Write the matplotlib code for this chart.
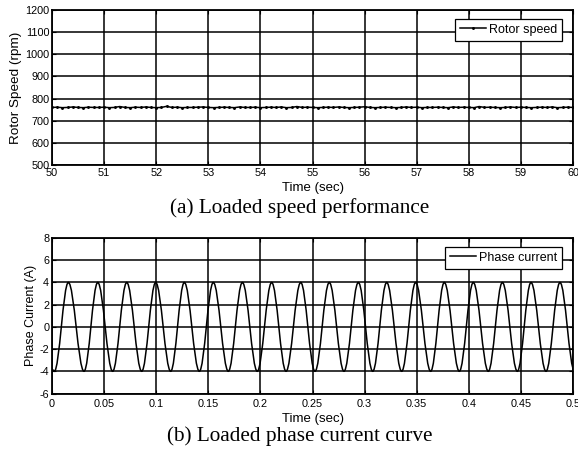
import numpy as np
import matplotlib
matplotlib.use("Agg")
import matplotlib.pyplot as plt
from matplotlib.path import Path
from matplotlib.patches import PathPatch
from matplotlib.lines import Line2D

# ---------------- data ----------------
speed_t0, speed_t1 = 50.0, 60.0
speed_rpm = [
    760, 761, 759, 760, 762, 760, 759, 761, 760, 760,
    761, 759, 760, 764, 760, 759, 761, 760, 762, 760,
    759, 760, 765, 760, 761, 759, 760, 760, 761, 762,
    760, 759, 760, 761, 760, 759, 762, 760, 760, 761,
    759, 760, 761, 760, 762, 759, 760, 764, 760, 761,
    760, 759, 760, 761, 760, 762, 760, 759, 760, 761,
    763, 760, 759, 760, 761, 760, 759, 760, 762, 760,
    761, 759, 760, 760, 761, 760, 759, 762, 760, 761,
    760, 759, 764, 760, 761, 760, 759, 760, 762, 760,
    761, 760, 759, 760, 761, 760, 762, 759, 760, 761,
    760,
]

current_start = (0.0, -3.8)
current_ext_t = [
    0.0022, 0.0157, 0.0307, 0.0439, 0.0582, 0.0717, 0.0861, 0.0995,
    0.1139, 0.1270, 0.1414, 0.1548, 0.1692, 0.1827, 0.1970, 0.2108,
    0.2246, 0.2387, 0.2524, 0.2661, 0.2802, 0.2940, 0.3078, 0.3212,
    0.3356, 0.3490, 0.3634, 0.3765, 0.3909, 0.4043, 0.4187, 0.4322,
    0.4466, 0.4597, 0.4741, 0.4875, 0.5015,
]
current_ext_v = [-4, 4] * 18 + [-4]

speed_xticks = [50, 51, 52, 53, 54, 55, 56, 57, 58, 59, 60]
speed_yticks = [500, 600, 700, 800, 900, 1000, 1100, 1200]
cur_xticks = [0, 0.05, 0.1, 0.15, 0.2, 0.25, 0.3, 0.35, 0.4, 0.45, 0.5]
cur_xlabels = ["0", "0.05", "0.1", "0.15", "0.2", "0.25", "0.3", "0.35", "0.4", "0.45", "0.5"]
cur_yticks = [-6, -4, -2, 0, 2, 4, 6, 8]

# ---------------- style ----------------
SANS = ["Liberation Sans", "DejaVu Sans"]
SERIF = ["Liberation Serif", "DejaVu Serif"]
plt.rcParams["font.family"] = SANS
plt.rcParams["axes.unicode_minus"] = False

W, H = 578, 451
fig = plt.figure(figsize=(W / 100, H / 100), dpi=100)

def px_axes(l, t, r, b):
    return fig.add_axes([l / W, 1 - b / H, (r - l) / W, (b - t) / H])

def style_axes(ax):
    ax.grid(True, color="black", linewidth=1.1)
    ax.set_axisbelow(False)
    for s in ax.spines.values():
        s.set_linewidth(1.3)
        s.set_color("black")
    ax.tick_params(direction="in", length=3, width=0.8, labelsize=7.8,
                   top=True, right=True, pad=2)

def add_legend(ax, handles, labels, axw, axh):
    leg = ax.legend(handles, labels, loc="upper right",
                    bbox_to_anchor=(1 - 11 / axw, 1 - 9 / axh),
                    borderaxespad=0, fontsize=9, frameon=True, fancybox=False,
                    edgecolor="black", framealpha=1, borderpad=0.38,
                    handlelength=2.1, handletextpad=0.25)
    leg.get_frame().set_linewidth(0.9)
    return leg

# ---- top: rotor speed ----
ax1 = px_axes(52, 10, 573, 165)
ts = np.linspace(speed_t0, speed_t1, len(speed_rpm))
line1, = ax1.plot(ts, speed_rpm, color="black", linewidth=1.1, marker=".",
                  markersize=2.2)
ax1.set_xlim(50, 60)
ax1.set_ylim(500, 1200)
ax1.set_xticks(speed_xticks)
ax1.set_yticks(speed_yticks)
style_axes(ax1)
ax1.set_xlabel("Time (sec)", fontsize=9.5, labelpad=3)
ax1.set_ylabel("Rotor Speed (rpm)", fontsize=9.7, labelpad=2)
add_legend(ax1, [line1], ["Rotor speed"], 521, 155)

# ---- bottom: phase current ----
ax2 = px_axes(52, 238, 573, 393.5)
k = 0.3634
verts = [current_start, (current_ext_t[0], current_ext_v[0])]
codes = [Path.MOVETO, Path.LINETO]
for i in range(len(current_ext_t) - 1):
    t0, v0 = current_ext_t[i], current_ext_v[i]
    t1, v1 = current_ext_t[i + 1], current_ext_v[i + 1]
    h = t1 - t0
    verts += [(t0 + k * h, v0), (t1 - k * h, v1), (t1, v1)]
    codes += [Path.CURVE4, Path.CURVE4, Path.CURVE4]
patch = PathPatch(Path(verts, codes), facecolor="none", edgecolor="black",
                  linewidth=1.1)
ax2.add_patch(patch)
ax2.set_xlim(0, 0.5)
ax2.set_ylim(-6, 8)
ax2.set_xticks(cur_xticks)
ax2.set_xticklabels(cur_xlabels)
ax2.set_yticks(cur_yticks)
style_axes(ax2)
ax2.tick_params(axis="x", pad=4)
ax2.set_xlabel("Time (sec)", fontsize=9.5, labelpad=3)
ax2.set_ylabel("Phase Current (A)", fontsize=9, labelpad=2)
proxy = Line2D([], [], color="black", linewidth=1.1)
add_legend(ax2, [proxy], ["Phase current"], 521, 155.5)

# ---- captions ----
fig.text(300 / W, 1 - 208 / H, "(a) Loaded speed performance", family=SERIF,
         fontsize=15.3, ha="center", va="center")
fig.text(300 / W, 1 - 436 / H, "(b) Loaded phase current curve", family=SERIF,
         fontsize=15.3, ha="center", va="center")

fig.savefig("out.png", dpi=100)
